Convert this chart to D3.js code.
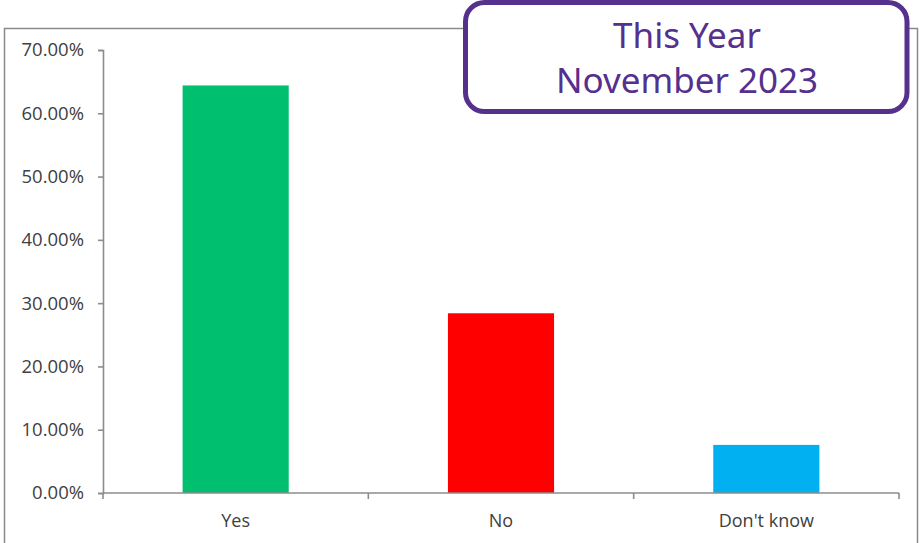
<!DOCTYPE html>
<html>
<head>
<meta charset="utf-8">
<script src="https://cdn.jsdelivr.net/npm/d3@7"></script>
<style>
  html, body { margin: 0; padding: 0; background: #fff; }
  svg { display: block; }
</style>
</head>
<body>
<svg id="chart" width="922" height="543"></svg>
<script>
// Survey responses, share of respondents
const categories = ["Yes", "No", "Don't know"];
const shares = [0.644, 0.284, 0.076];
const barColors = ["#00BF6F", "#FF0000", "#00B0F0"];
const yTicks = [0, 0.1, 0.2, 0.3, 0.4, 0.5, 0.6, 0.7];
const titleLines = ["This Year", "November 2023"];

const svg = d3.select("#chart");
const axisColor = "#8c8c8c";
const textColor = "#404040";
const labelFont = "'Open Sans', 'Noto Sans', sans-serif";

// Plot frame
svg.append("rect")
  .attr("x", 4.5).attr("y", 28.5)
  .attr("width", 913).attr("height", 540)
  .attr("fill", "none")
  .attr("stroke", "#8a8a8a")
  .attr("stroke-width", 1.5);

const plot = { left: 103, right: 899, top: 50, bottom: 493 };

const x = d3.scaleBand()
  .domain(categories)
  .range([plot.left, plot.right])
  .paddingInner(0.6)
  .paddingOuter(0.3);

const y = d3.scaleLinear()
  .domain([0, 0.7])
  .range([plot.bottom, plot.top]);

// Bars
svg.append("g")
  .selectAll("rect")
  .data(categories)
  .join("rect")
  .attr("x", d => x(d))
  .attr("width", x.bandwidth())
  .attr("y", (d, i) => y(shares[i]))
  .attr("height", (d, i) => y(0) - y(shares[i]))
  .attr("fill", (d, i) => barColors[i]);

// Y axis
const yAxis = svg.append("g")
  .attr("transform", `translate(${plot.left},0)`)
  .call(d3.axisLeft(y).tickValues(yTicks).tickFormat(d3.format(".2%")).tickSize(5).tickPadding(14));
yAxis.select(".domain").attr("stroke", axisColor).attr("stroke-width", 1.6);
yAxis.selectAll(".tick line").attr("stroke", axisColor).attr("stroke-width", 1.6);
yAxis.selectAll(".tick text")
  .attr("fill", textColor)
  .style("font-family", labelFont)
  .style("font-size", "18.5px");

// X axis: baseline with boundary ticks between categories
const step = x.step();
const boundaries = d3.range(categories.length + 1).map(i => plot.left + i * step);
const xAxis = svg.append("g");
xAxis.append("line")
  .attr("x1", plot.left).attr("x2", plot.right)
  .attr("y1", plot.bottom).attr("y2", plot.bottom)
  .attr("stroke", axisColor).attr("stroke-width", 1.6);
xAxis.selectAll("line.b")
  .data(boundaries)
  .join("line")
  .attr("class", "b")
  .attr("x1", d => d).attr("x2", d => d)
  .attr("y1", plot.bottom).attr("y2", plot.bottom + 6)
  .attr("stroke", axisColor).attr("stroke-width", 1.6);
xAxis.selectAll("text")
  .data(categories)
  .join("text")
  .attr("x", d => x(d) + x.bandwidth() / 2)
  .attr("y", 527)
  .attr("text-anchor", "middle")
  .attr("fill", textColor)
  .style("font-family", labelFont)
  .style("font-size", "18px")
  .text(d => d);

// Title box
const box = svg.append("g");
box.append("rect")
  .attr("x", 465.5).attr("y", 2.5)
  .attr("width", 441.5).attr("height", 109)
  .attr("rx", 19).attr("ry", 19)
  .attr("fill", "#fff")
  .attr("stroke", "#55308D")
  .attr("stroke-width", 5);
box.selectAll("text")
  .data(titleLines)
  .join("text")
  .attr("x", 687)
  .attr("y", (d, i) => 48 + i * 45)
  .attr("text-anchor", "middle")
  .attr("fill", "#55308D")
  .style("font-family", "'Noto Sans', 'Open Sans', sans-serif")
  .style("font-size", "35px")
  .text(d => d);
</script>
</body>
</html>
